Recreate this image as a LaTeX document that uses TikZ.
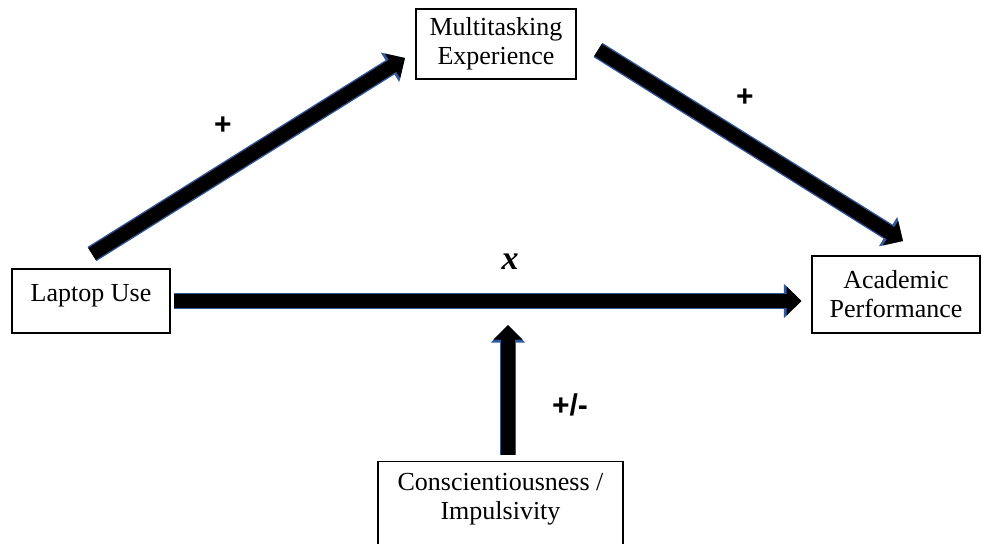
\documentclass[tikz,border=0pt]{standalone}
\usepackage{fontspec}
\setmainfont{Liberation Serif}
\newfontfamily\signfont{Liberation Sans}
\usetikzlibrary{arrows.meta}
\definecolor{arrowblue}{RGB}{50,88,155}
\tikzset{
  varbox/.style={draw, line width=0.6pt, align=center, inner sep=0pt, font=\fontsize{13}{14.5}\selectfont},
  bigarrow/.style={line width=7pt, -{Triangle[length=0pt 1.05, width=0pt 2.0]},
    preaction={draw=arrowblue, line width=8.4pt, -{Triangle[length=0pt 1.05, width=0pt 2.0]}}},
  sign/.style={font=\signfont\bfseries\fontsize{15}{15}\selectfont}
}
\begin{document}
\begin{tikzpicture}[x=0.5pt,y=-0.5pt]
\useasboundingbox (0,0) rectangle (982,544);
\node[varbox, minimum width=80pt, minimum height=35pt] (multi) at (496,44) {Multitasking\\Experience};
\node[varbox, minimum width=79pt, text height=16.3pt, text depth=15.7pt] (lap) at (91,301) {Laptop Use};
\node[varbox, minimum width=84pt, minimum height=38.5pt] (acad) at (896,294.5) {Academic\\Performance};
\node[varbox, anchor=north, minimum width=122.5pt, inner ysep=6pt, text depth=34pt] (consc) at (500.5,461) {Conscientiousness /\\Impulsivity};
\coordinate (d1s) at (92,254);
\coordinate (d1e) at (405,58);
\coordinate (d2s) at (598,50);
\coordinate (d2e) at (903,241);
\coordinate (vs) at (508,455);
\coordinate (ve) at (508,325);
\draw[bigarrow] (d1s) -- (d1e);
\draw[bigarrow] (d2s) -- (d2e);
\draw[bigarrow, shorten <=1.5pt, shorten >=5pt] (lap.east) -- (lap.east -| acad.west);
\draw[bigarrow] (vs) -- (ve);
\node[sign] (plusA) at (223,126) {+};
\node[sign] (plusB) at (745,98) {+};
\node[font=\bfseries\itshape\fontsize{17}{17}\selectfont] (ex) at (510,262) {x};
\node[sign] (pm) at (570,405) {+/-};
\end{tikzpicture}
\end{document}
